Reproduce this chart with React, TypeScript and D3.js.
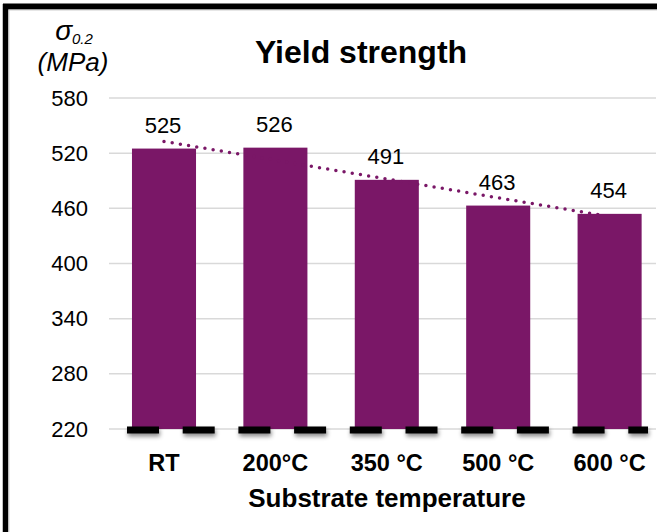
import React from "react";
import * as d3 from "d3";

const categories = ["RT", "200°C", "350 °C", "500 °C", "600 °C"];
const values = [525, 526, 491, 463, 454];
const yTicks = [220, 280, 340, 400, 460, 520, 580];

const W = 657;
const H = 532;
const FONT = "'Liberation Sans', Arial, sans-serif";
const PURPLE = "#7a1767";

export default function App() {
  const x = d3
    .scaleBand<string>()
    .domain(categories)
    .range([108.3, 665.3])
    .paddingInner(0.425)
    .paddingOuter(0.2125);
  const y = d3.scaleLinear().domain([220, 580]).range([429, 98]);

  // linear trendline (least squares over category index)
  const n = values.length;
  const idx = values.map((_, i) => i + 1);
  const mx = d3.mean(idx)!;
  const my = d3.mean(values)!;
  const slope =
    d3.sum(idx.map((xi, i) => (xi - mx) * (values[i] - my))) /
    d3.sum(idx.map((xi) => (xi - mx) ** 2));
  const icpt = my - slope * mx;
  const cx = (c: string) => x(c)! + x.bandwidth() / 2;
  const trendStart = { x: cx(categories[0]), y: y(icpt + slope * 1) };
  const trendEnd = { x: cx(categories[n - 1]) - 10, y: y(icpt + slope * (n - 0.1)) };

  return (
    <svg
      width={W}
      height={H}
      style={{ position: "absolute", left: 0, top: 0, background: "#fff" }}
      fontFamily={FONT}
    >
      <defs>
        <filter id="sh" filterUnits="userSpaceOnUse" x={0} y={400} width={W} height={60}>
          <feDropShadow dx="1" dy="3" stdDeviation="2" floodColor="#000" floodOpacity="0.45" />
        </filter>
      </defs>
      {/* frame */}
      <line x1={3} y1={6.5} x2={W} y2={6.5} stroke="#000" strokeWidth={6} />
      <line x1={3} y1={9.8} x2={W} y2={9.8} stroke="#aaa" strokeWidth={1} />
      <line x1={5.5} y1={4} x2={5.5} y2={H} stroke="#000" strokeWidth={5.5} />
      <line x1={8.8} y1={10} x2={8.8} y2={H} stroke="#bbb" strokeWidth={1} />

      {/* gridlines */}
      {yTicks.map((t) => (
        <line key={t} x1={109} x2={656} y1={y(t)} y2={y(t)} stroke="#d9d9d9" strokeWidth={1.5} />
      ))}
      {/* y tick labels */}
      {yTicks.map((t) => (
        <text key={"l" + t} x={88} y={y(t) + 7.5} textAnchor="end" fontSize={22} fill="#000">
          {t}
        </text>
      ))}

      {/* bars */}
      {categories.map((c, i) => (
        <rect
          key={c}
          x={x(c)}
          y={y(values[i])}
          width={x.bandwidth()}
          height={y(220) - y(values[i])}
          fill={PURPLE}
        />
      ))}

      {/* dashed axis with shadow */}
      <line
        x1={127}
        x2={648}
        y1={y(220) + 1}
        y2={y(220) + 1}
        stroke="#000"
        strokeWidth={7}
        strokeDasharray="32 23.7"
        filter="url(#sh)"
      />

      {/* trendline */}
      <line
        x1={trendStart.x}
        y1={trendStart.y}
        x2={trendEnd.x}
        y2={trendEnd.y}
        stroke={PURPLE}
        strokeWidth={3.5}
        strokeLinecap="round"
        strokeDasharray="0 8.3"
      />

      {/* value labels */}
      {categories.map((c, i) => (
        <text key={"v" + c} x={cx(c) - 1} y={y(values[i]) - 16} textAnchor="middle" fontSize={22} fill="#000">
          {values[i]}
        </text>
      ))}

      {/* x labels */}
      {categories.map((c) => (
        <text key={"x" + c} x={cx(c)} y={471} textAnchor="middle" fontSize={23.5} fontWeight="bold" fill="#000">
          {c}
        </text>
      ))}
      <text x={387} y={507} textAnchor="middle" fontSize={26} fontWeight="bold" fill="#000">
        Substrate temperature
      </text>

      {/* title */}
      <text x={361} y={63} textAnchor="middle" fontSize={32} fontWeight="bold" fill="#000">
        Yield strength
      </text>

      {/* y axis title */}
      <text x={74} y={40} textAnchor="middle" fontSize={28} fontStyle="italic" fill="#000">
        σ
        <tspan fontSize={15} dy={4}>
          0.2
        </tspan>
      </text>
      <text x={73} y={71} textAnchor="middle" fontSize={26} fontStyle="italic" fill="#000">
        (MPa)
      </text>
    </svg>
  );
}
